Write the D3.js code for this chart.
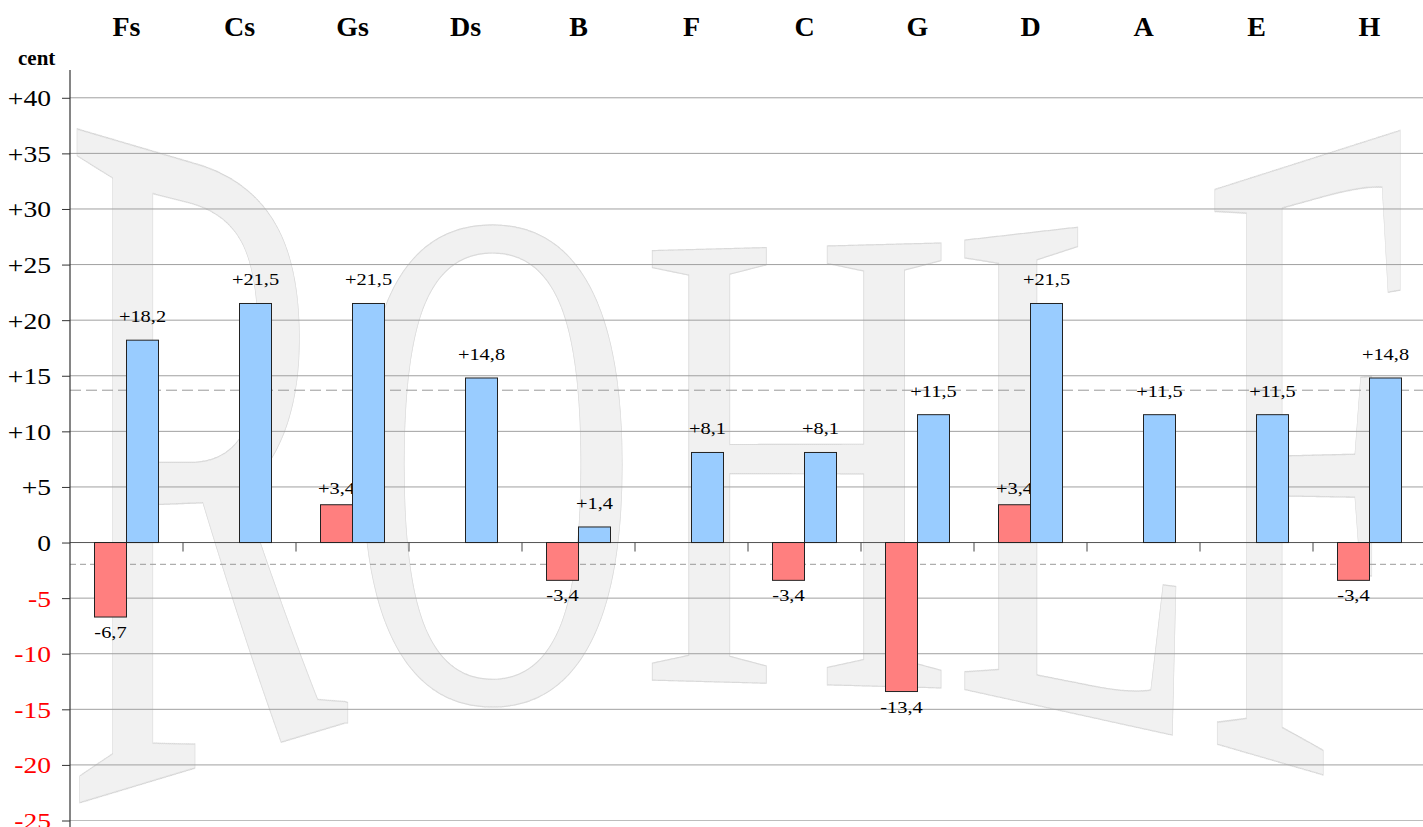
<!DOCTYPE html>
<html>
<head>
<meta charset="utf-8">
<script src="https://cdn.jsdelivr.net/npm/d3@7"></script>
<style>
  html, body { margin: 0; padding: 0; background: #fff; }
  svg { display: block; }
  svg text { font-family: "Liberation Serif", "Times New Roman", serif !important; }
</style>
</head>
<body>
<svg id="chart" width="1423" height="827" xmlns:xlink="http://www.w3.org/1999/xlink"></svg>
<script>
// ---- data ----
const categories = ["Fs", "Cs", "Gs", "Ds", "B", "F", "C", "G", "D", "A", "E", "H"];
const redValues  = [-6.7, 0, 3.4, 0, -3.4, 0, -3.4, -13.4, 3.4, 0, 0, -3.4];
const blueValues = [18.2, 21.5, 21.5, 14.8, 1.4, 8.1, 8.1, 11.5, 21.5, 11.5, 11.5, 14.8];
const yTicks = [-25, -20, -15, -10, -5, 0, 5, 10, 15, 20, 25, 30, 35, 40];
const unitLabel = "cent";
const watermark = ["R", "O", "H", "L", "F"];

// ---- layout ----
const W = 1423, H = 827;
const svg = d3.select("#chart");
const x = d3.scaleBand().domain(categories).range([70, 1426]).padding(0);
const bw = x.bandwidth();
const series = ["red", "blue"];
const xs = d3.scaleBand().domain(series).range([bw / 2 - 32, bw / 2 + 32]).padding(0);
const y = d3.scaleLinear().domain([-25, 42.5]).range([820.5, 70]);
const fill = { red: "#ff7f7f", blue: "#99ccff" };
const SERIF = "'Liberation Serif', 'Times New Roman', serif";

// ---- watermark (warped letters, drawn as vertical strips) ----
const wmBoxes = [
  { x0: 72,   x1: 345,  top: [120, 202], bottom: [805, 723], ink: [0.017, 0.659, 0, 0.662] },
  { x0: 360,  x1: 625,  top: [215, 215], bottom: [710, 710], ink: [0.034, 0.688, -0.014, 0.676] },
  { x0: 648,  x1: 945,  top: [246, 238], bottom: [680, 688], ink: [0.019, 0.702, 0, 0.662] },
  { x0: 958,  x1: 1195, top: [236, 208], bottom: [688, 740], ink: [0.012, 0.598, 0, 0.662] },
  { x0: 1210, x1: 1410, top: [185, 120], bottom: [742, 800], ink: [0.016, 0.546, 0, 0.662] }
];
const defs = svg.append("defs");
const wm = svg.append("g");
const STRIP = 2;
watermark.forEach((ch, i) => {
  const b = wmBoxes[i];
  const fs = 100;
  const sx = (b.x1 - b.x0) / (fs * (b.ink[1] - b.ink[0]));
  const tx = b.x0 - sx * fs * b.ink[0];
  const lerp = (a, t) => a[0] + (a[1] - a[0]) * t;
  const strips = d3.range(b.x0 - 4, b.x1 + 4, STRIP);
  // middle strip holds the real text element; the others reuse it
  const mid = strips[Math.floor(strips.length / 2)];
  const order = [mid].concat(strips.filter(s => s !== mid));
  const textId = `wmText${i}`;
  order.forEach((xa, k) => {
    const xm = xa + STRIP / 2;
    const t = Math.max(0, Math.min(1, (xm - b.x0) / (b.x1 - b.x0)));
    const top = lerp(b.top, t), bottom = lerp(b.bottom, t);
    const sy = (bottom - top) / (fs * (b.ink[3] - b.ink[2]));
    const ty = bottom + sy * fs * b.ink[2];
    const id = `wmclip${i}_${k}`;
    defs.append("clipPath").attr("id", id).attr("clipPathUnits", "userSpaceOnUse")
      .append("rect").attr("x", xa - 0.3).attr("y", 0).attr("width", STRIP + 0.6).attr("height", H);
    const tr = `translate(${tx},${ty}) scale(${sx},${sy})`;
    const g = wm.append("g").attr("clip-path", `url(#${id})`);
    if (k === 0) {
      g.append("g").attr("transform", tr)
        .append("text").attr("id", textId)
        .attr("font-size", fs)
        .style("font-family", SERIF)
        .attr("fill", "#f1f1f1")
        .attr("stroke", "#d9d9d9")
        .attr("stroke-width", 1)
        .style("vector-effect", "non-scaling-stroke")
        .text(ch);
    } else {
      g.append("use").attr("href", `#${textId}`).attr("transform", tr);
    }
  });
});

// ---- gridlines ----
svg.append("g").selectAll("line").data(yTicks).join("line")
  .attr("x1", 70).attr("x2", W)
  .attr("y1", d => y(d)).attr("y2", d => y(d))
  .attr("stroke", d => d === 0 ? "#555" : (d === -25 ? "#bdbdbd" : "#a0a0a0"))
  .attr("stroke-width", 1);

// ---- mean dashed lines ----
const blueMean = d3.mean(blueValues);
const redMean = d3.mean(redValues);
svg.append("line").attr("x1", 70).attr("x2", W)
  .attr("y1", y(blueMean)).attr("y2", y(blueMean))
  .attr("stroke", "#9a9a9a").attr("stroke-dasharray", "11,5");
svg.append("line").attr("x1", 70).attr("x2", W)
  .attr("y1", y(redMean)).attr("y2", y(redMean))
  .attr("stroke", "#9a9a9a").attr("stroke-dasharray", "6,4");

// ---- y axis ----
const yAxis = d3.axisLeft(y).tickValues(yTicks).tickSize(8).tickFormat(d => d > 0 ? "+" + d : String(d));
const ya = svg.append("g").attr("transform", "translate(70,0)").call(yAxis)
  .attr("font-family", null).attr("font-size", null);
ya.select(".domain").remove();
ya.selectAll(".tick line").attr("stroke", "#333");
ya.selectAll(".tick text")
  .attr("x", 0).attr("y", 0).attr("dy", null)
  .attr("transform", "translate(-19,8) scale(1.2,1)")
  .attr("text-anchor", "end")
  .style("font-family", SERIF)
  .style("font-size", "23px")
  .attr("fill", d => d < 0 ? "#ff0000" : "#000");
svg.append("line").attr("x1", 70).attr("x2", 70).attr("y1", 70).attr("y2", H)
  .attr("stroke", "#333").attr("stroke-width", 1.2);

// ---- x ticks at category boundaries ----
svg.append("g").selectAll("line").data(categories.slice(1)).join("line")
  .attr("x1", d => x(d)).attr("x2", d => x(d))
  .attr("y1", y(0)).attr("y2", y(0) + 9)
  .attr("stroke", "#444");

// ---- category labels ----
svg.append("g").selectAll("text").data(categories).join("text")
  .attr("x", d => x(d) + bw / 2).attr("y", 36)
  .attr("text-anchor", "middle")
  .style("font-family", SERIF)
  .style("font-weight", "bold").style("font-size", "28px")
  .text(d => d);

svg.append("text").attr("x", 18).attr("y", 65)
  .style("font-family", SERIF)
  .style("font-weight", "bold").style("font-size", "21px")
  .text(unitLabel);

// ---- bars ----
const rows = categories.map((c, i) => ({ c, red: redValues[i], blue: blueValues[i] }));
const fmt = v => (v > 0 ? "+" : "-") + Math.abs(v).toFixed(1).replace(".", ",");
series.forEach(s => {
  const data = rows.filter(r => r[s] !== 0);
  const g = svg.append("g");
  g.selectAll("rect").data(data).join("rect")
    .attr("x", d => x(d.c) + xs(s))
    .attr("width", xs.bandwidth())
    .attr("y", d => y(Math.max(0, d[s])))
    .attr("height", d => Math.abs(y(d[s]) - y(0)))
    .attr("fill", fill[s])
    .attr("stroke", "#222").attr("stroke-width", 1);
  g.selectAll("text").data(data).join("text")
    .attr("transform", d => {
      const cx = x(d.c) + xs(s) + xs.bandwidth() / 2;
      const v = d[s];
      const by = v > 0 ? y(v) - (s === "blue" ? 18 : 11) : y(v) + 21;
      return `translate(${cx},${by}) scale(1.2,1)`;
    })
    .attr("text-anchor", "middle")
    .style("font-family", SERIF)
    .style("font-size", "17px")
    .attr("fill", "#000")
    .text(d => fmt(d[s]));
});
</script>
</body>
</html>
